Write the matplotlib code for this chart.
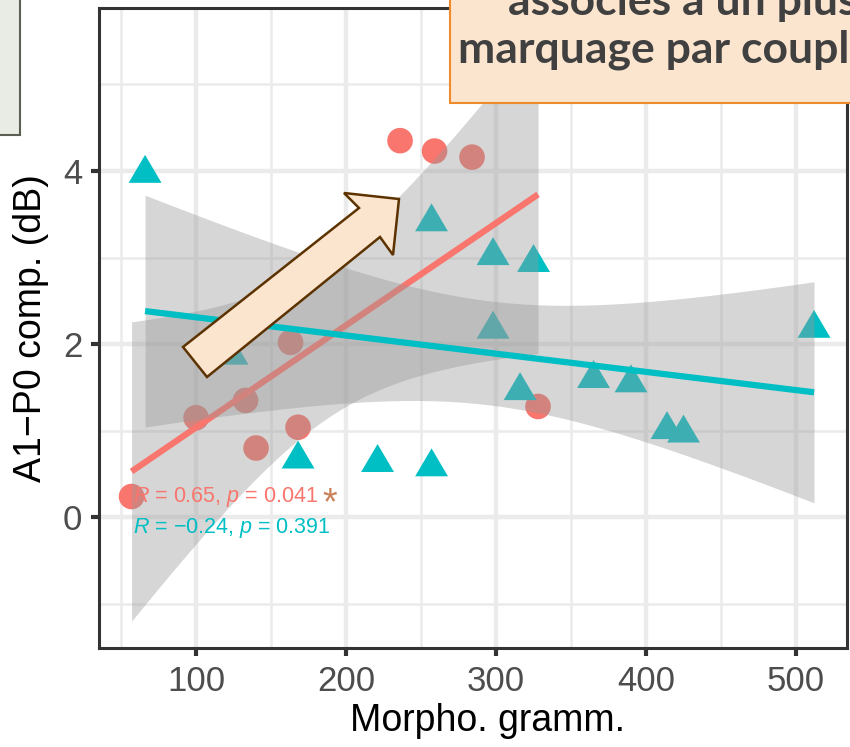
import numpy as np
import matplotlib
matplotlib.use('Agg')
import matplotlib.pyplot as plt
from matplotlib.patches import Rectangle, Polygon

plt.rcParams['font.family'] = ['Liberation Sans', 'DejaVu Sans']
plt.rcParams['mathtext.fontset'] = 'custom'
plt.rcParams['mathtext.rm'] = 'Liberation Sans'
plt.rcParams['mathtext.it'] = 'Liberation Sans:italic'

# data
red_x = np.array([57, 100, 133, 140, 163, 168, 236, 259, 284, 328])
red_y = np.array([0.24, 1.15, 1.35, 0.80, 2.02, 1.04, 4.35, 4.23, 4.16, 1.28])
teal_x = np.array([66, 124, 168, 221, 257, 257, 298, 325, 298, 316, 365, 390, 414, 425, 512])
teal_y = np.array([4.0, 1.9, 0.7, 0.66, 0.61, 3.44, 3.05, 2.97, 2.2, 1.49, 1.63, 1.58, 1.04, 1.0, 2.21])
red_label = r'$\it{R}$ = 0.65, $\it{p}$ = 0.041'
teal_label = r'$\it{R}$ = −0.24, $\it{p}$ = 0.391'
x_ticks = [100, 200, 300, 400, 500]
y_ticks = [0, 2, 4]

RED = '#F8766D'
TEAL = '#00BFC4'


def smooth(x, y, tval):
    n = len(x)
    b, a = np.polyfit(x, y, 1)
    xs = np.linspace(x.min(), x.max(), 80)
    fit = a + b * xs
    s = np.sqrt(np.sum((y - (a + b * x)) ** 2) / (n - 2))
    se = s * np.sqrt(1 / n + (xs - x.mean()) ** 2 / np.sum((x - x.mean()) ** 2))
    return xs, fit, fit - tval * se, fit + tval * se


fig = plt.figure(figsize=(8.5, 7.47), dpi=100)
ax = fig.add_axes([0.1165, 0.1325, 0.88, 0.8565])

ax.set_xlim(35.3, 534)
ax.set_ylim(-1.51, 5.88)
ax.set_xticks(x_ticks)
ax.set_xticks([50, 150, 250, 350, 450], minor=True)
ax.set_yticks(y_ticks)
ax.set_yticks([-1, 1, 3, 5], minor=True)
ax.grid(True, which='major', color='#ebebeb', lw=3.2, zorder=0)
ax.grid(True, which='minor', color='#ebebeb', lw=1.8, zorder=0)
ax.tick_params(which='minor', length=0)
ax.tick_params(which='major', length=6, width=3, color='#333333',
               labelsize=25, labelcolor='#4d4d4d', pad=6)
for sp in ax.spines.values():
    sp.set_color('#333333')
    sp.set_linewidth(2.2)
ax.set_axisbelow(True)

ax.scatter(red_x, red_y, s=340, color=RED, edgecolors='none', zorder=2)
tri = [(-1, -0.72), (1, -0.72), (0, 0.98)]
ax.scatter(teal_x, teal_y, s=560, marker=tri, color=TEAL, edgecolors='none', zorder=2)

# regression lines with 95% bands (t for df=8 and df=13)
for x, y, tval, col in [(red_x, red_y, 2.306, RED), (teal_x, teal_y, 2.160, TEAL)]:
    xs, fit, lo, hi = smooth(x, y, tval)
    ax.fill_between(xs, lo, hi, color='#999999', alpha=0.4, lw=0, zorder=3)
    ax.plot(xs, fit, color=col, lw=4.5, zorder=3, solid_capstyle='butt')

ax.text(58, 0.23, red_label, color=RED, fontsize=15.5, va='center', zorder=5)
ax.text(58, -0.12, teal_label, color=TEAL, fontsize=15.5, va='center', zorder=5)
ax.text(184, 0.03, '*', color='#C9825A', fontsize=27, va='baseline', zorder=5)

ax.set_xlabel('Morpho. gramm.', fontsize=27)
ax.xaxis.set_label_coords(0.52, -0.086)
ax.set_ylabel('A1−P0 comp. (dB)', fontsize=27, labelpad=10)

# slide overlays in pixel coordinates
ov = fig.add_axes([0, 0, 1, 1], zorder=10)
ov.set_xlim(0, 850)
ov.set_ylim(747, 0)
ov.axis('off')
ov.patch.set_alpha(0)

ov.add_patch(Rectangle((-5, -5), 25, 140, facecolor='#E9ECE5', edgecolor='#5B5E52', lw=1.5))
ov.add_patch(Rectangle((450, -10), 420, 113, facecolor='#FBE5CE', edgecolor='#EE8C2B', lw=1.5))
ov.text(508, 15, 'associés à un plus', fontsize=32, fontweight='bold', family='Lato',
        color='#404040', va='baseline')
ov.text(458, 62, 'marquage par couple', fontsize=32, fontweight='bold', family='Lato',
        color='#404040', va='baseline')

arrow = [(183, 347), (359, 208), (344, 193), (399, 199), (393, 255), (380, 237), (207, 377)]
ov.add_patch(Polygon(arrow, closed=True, facecolor='#FBE5CE', edgecolor='#5C3300', lw=1.8))

fig.savefig('out.png', dpi=100)
